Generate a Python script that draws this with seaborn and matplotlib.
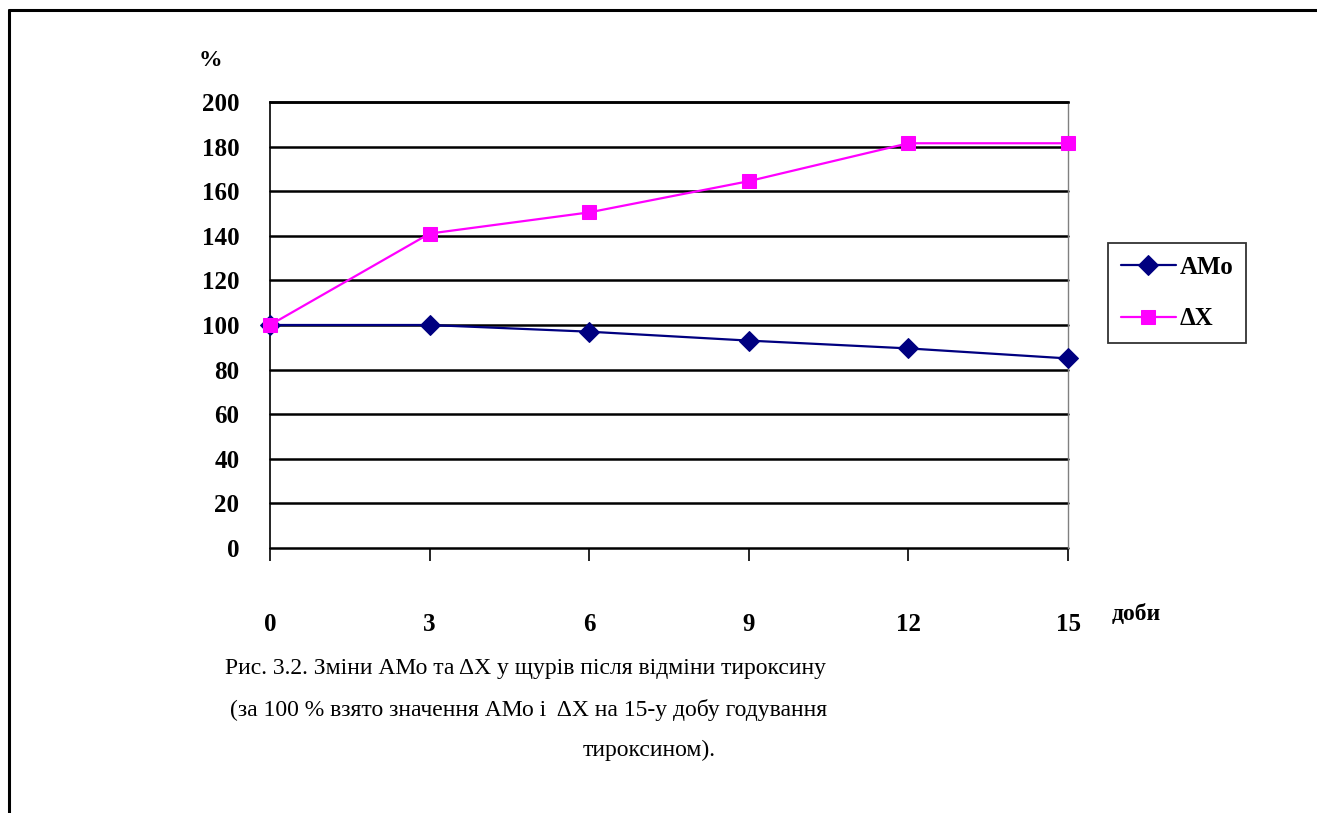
import matplotlib
matplotlib.use("Agg")
import matplotlib.pyplot as plt
from matplotlib.lines import Line2D
import seaborn as sns
import pandas as pd

days = [0, 3, 6, 9, 12, 15]
amo = [100, 100, 97, 93, 89.5, 85]
dx = [100, 141, 150.5, 164.5, 181.5, 181.5]
series_names = ["АМо", "ΔХ"]
y_ticks = [0, 20, 40, 60, 80, 100, 120, 140, 160, 180, 200]
x_ticks = [0, 3, 6, 9, 12, 15]

sns.set_style("white")
plt.rcParams["font.family"] = ["Liberation Serif", "DejaVu Serif"]
plt.rcParams["text.color"] = "black"
plt.rcParams["xtick.color"] = "black"
plt.rcParams["ytick.color"] = "black"
plt.rcParams["xtick.labelcolor"] = "black"
plt.rcParams["ytick.labelcolor"] = "black"

W, H = 1317, 813
fig = plt.figure(figsize=(W / 100, H / 100), dpi=100)
ax = fig.add_axes([270 / W, 1 - 548 / H, (1068 - 270) / W, (548 - 102) / H])

df = pd.concat([
    pd.DataFrame({"day": days, "value": amo, "series": series_names[0]}),
    pd.DataFrame({"day": days, "value": dx, "series": series_names[1]}),
])

sns.lineplot(data=df[df.series == series_names[0]], x="day", y="value", ax=ax,
             color="#000080", marker="D", markersize=10, markeredgecolor="#000080",
             linewidth=1.6, label=series_names[0], clip_on=False, zorder=4)
sns.lineplot(data=df[df.series == series_names[1]], x="day", y="value", ax=ax,
             color="#FF00FF", marker="s", markersize=9.5, markeredgecolor="#FF00FF",
             linewidth=1.6, label=series_names[1], clip_on=False, zorder=5)

ax.set_xlim(0, 15)
ax.set_ylim(0, 200)
ax.set_yticks(y_ticks)
ax.set_yticklabels([str(v) for v in y_ticks], fontsize=18, fontweight="bold", color="black")
ax.set_xticks(x_ticks)
ax.set_xticklabels([str(v) for v in x_ticks], fontsize=18, fontweight="bold", color="black")
ax.tick_params(axis="y", left=False, length=0, pad=22)
ax.tick_params(axis="x", bottom=True, direction="out", length=9, width=1.2,
               color="black", pad=38)
ax.set_xlabel("")
ax.set_ylabel("")

for y in y_ticks:
    ax.axhline(y, color="black", linewidth=1.8, zorder=1, clip_on=False)

ax.spines["left"].set_color("black")
ax.spines["left"].set_linewidth(1.2)
ax.spines["top"].set_color("black")
ax.spines["top"].set_linewidth(1.8)
ax.spines["right"].set_color("#808080")
ax.spines["right"].set_linewidth(1.0)
ax.spines["bottom"].set_visible(False)

leg = ax.legend(loc="center left", bbox_to_anchor=(1108 / W, 1 - 293 / H),
                bbox_transform=fig.transFigure, frameon=True, fancybox=False,
                handlelength=2.2, borderpad=0.5, borderaxespad=0, labelspacing=1.15,
                prop={"size": 18, "weight": "bold"}, handletextpad=0.15)
leg.get_frame().set_edgecolor("black")
leg.get_frame().set_linewidth(1.3)
for t in leg.get_texts():
    t.set_color("black")

fig.text(210 / W, 1 - 60 / H, "%", fontsize=17, fontweight="bold", ha="center", va="center")
fig.text(1112 / W, 1 - 614 / H, "доби", fontsize=17, fontweight="bold", ha="left", va="center")

fig.text(225 / W, 1 - 668 / H, "Рис. 3.2. Зміни АМо та ΔХ у щурів після відміни тироксину",
         fontsize=17, ha="left", va="center")
fig.text(230 / W, 1 - 710 / H, "(за 100 % взято значення АМо і  ΔХ на 15-у добу годування",
         fontsize=17, ha="left", va="center")
fig.text(583 / W, 1 - 750 / H, "тироксином).", fontsize=17, ha="left", va="center")

fig.add_artist(Line2D([9 / W, 9 / W], [0, 1 - 10 / H], color="black", linewidth=2.2,
                      transform=fig.transFigure))
fig.add_artist(Line2D([9 / W, 1], [1 - 10 / H, 1 - 10 / H], color="black", linewidth=2.2,
                      transform=fig.transFigure))

fig.savefig("out.png", dpi=100)
